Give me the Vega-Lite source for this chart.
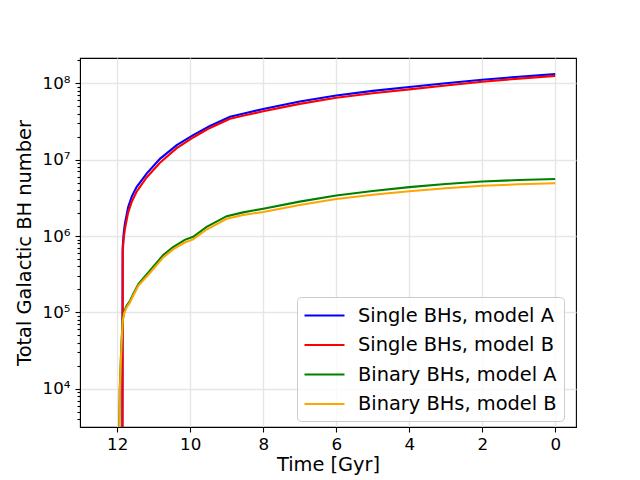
{
  "$schema": "https://vega.github.io/schema/vega-lite/v6.json",
  "width": 496,
  "height": 369,
  "autosize": {"type": "none"},
  "padding": {"left": 80, "top": 58, "right": 64, "bottom": 53},
  "background": "white",
  "config": {
    "font": "DejaVu Sans",
    "view": {"stroke": "black", "strokeWidth": 1.1},
    "axis": {
      "domainColor": "black",
      "tickColor": "black",
      "labelColor": "black",
      "titleColor": "black",
      "gridColor": "#e6e6e6",
      "gridWidth": 1.4,
      "labelFontSize": 16.7,
      "titleFontSize": 19.4,
      "titleFontWeight": "normal",
      "tickWidth": 1.1
    }
  },
  "data": {
    "values": [
      {"series": "Single BHs, model A", "t": 11.86, "n": 1000},
      {"series": "Single BHs, model A", "t": 11.85, "n": 716000},
      {"series": "Single BHs, model A", "t": 11.82, "n": 1122000},
      {"series": "Single BHs, model A", "t": 11.79, "n": 1445000},
      {"series": "Single BHs, model A", "t": 11.70, "n": 2399000},
      {"series": "Single BHs, model A", "t": 11.60, "n": 3311000},
      {"series": "Single BHs, model A", "t": 11.47, "n": 4365000},
      {"series": "Single BHs, model A", "t": 11.19, "n": 6607000},
      {"series": "Single BHs, model A", "t": 10.83, "n": 10230000},
      {"series": "Single BHs, model A", "t": 10.37, "n": 15490000},
      {"series": "Single BHs, model A", "t": 9.92, "n": 20890000},
      {"series": "Single BHs, model A", "t": 9.46, "n": 27540000},
      {"series": "Single BHs, model A", "t": 8.91, "n": 36310000},
      {"series": "Single BHs, model A", "t": 8.5, "n": 40500000},
      {"series": "Single BHs, model A", "t": 8.0, "n": 46030000},
      {"series": "Single BHs, model A", "t": 7.0, "n": 57540000},
      {"series": "Single BHs, model A", "t": 6.0, "n": 69180000},
      {"series": "Single BHs, model A", "t": 5.0, "n": 79430000},
      {"series": "Single BHs, model A", "t": 4.0, "n": 89130000},
      {"series": "Single BHs, model A", "t": 3.0, "n": 100000000},
      {"series": "Single BHs, model A", "t": 2.0, "n": 110900000},
      {"series": "Single BHs, model A", "t": 1.0, "n": 121600000},
      {"series": "Single BHs, model A", "t": 0.0, "n": 131800000},
      {"series": "Single BHs, model B", "t": 11.86, "n": 1000},
      {"series": "Single BHs, model B", "t": 11.85, "n": 631000},
      {"series": "Single BHs, model B", "t": 11.82, "n": 955000},
      {"series": "Single BHs, model B", "t": 11.79, "n": 1230000},
      {"series": "Single BHs, model B", "t": 11.70, "n": 2040000},
      {"series": "Single BHs, model B", "t": 11.60, "n": 2820000},
      {"series": "Single BHs, model B", "t": 11.47, "n": 3800000},
      {"series": "Single BHs, model B", "t": 11.19, "n": 5890000},
      {"series": "Single BHs, model B", "t": 10.83, "n": 9120000},
      {"series": "Single BHs, model B", "t": 10.37, "n": 14130000},
      {"series": "Single BHs, model B", "t": 9.92, "n": 19500000},
      {"series": "Single BHs, model B", "t": 9.46, "n": 26000000},
      {"series": "Single BHs, model B", "t": 8.91, "n": 34300000},
      {"series": "Single BHs, model B", "t": 8.5, "n": 38000000},
      {"series": "Single BHs, model B", "t": 8.0, "n": 43000000},
      {"series": "Single BHs, model B", "t": 7.0, "n": 53700000},
      {"series": "Single BHs, model B", "t": 6.0, "n": 64600000},
      {"series": "Single BHs, model B", "t": 5.0, "n": 74100000},
      {"series": "Single BHs, model B", "t": 4.0, "n": 83200000},
      {"series": "Single BHs, model B", "t": 3.0, "n": 93300000},
      {"series": "Single BHs, model B", "t": 2.0, "n": 104700000},
      {"series": "Single BHs, model B", "t": 1.0, "n": 114800000},
      {"series": "Single BHs, model B", "t": 0.0, "n": 124700000},
      {"series": "Binary BHs, model A", "t": 11.96, "n": 1000},
      {"series": "Binary BHs, model A", "t": 11.93, "n": 10000},
      {"series": "Binary BHs, model A", "t": 11.90, "n": 25100},
      {"series": "Binary BHs, model A", "t": 11.88, "n": 42700},
      {"series": "Binary BHs, model A", "t": 11.85, "n": 80000},
      {"series": "Binary BHs, model A", "t": 11.81, "n": 102000},
      {"series": "Binary BHs, model A", "t": 11.75, "n": 120000},
      {"series": "Binary BHs, model A", "t": 11.65, "n": 142000},
      {"series": "Binary BHs, model A", "t": 11.55, "n": 178000},
      {"series": "Binary BHs, model A", "t": 11.42, "n": 234000},
      {"series": "Binary BHs, model A", "t": 11.10, "n": 355000},
      {"series": "Binary BHs, model A", "t": 10.74, "n": 562000},
      {"series": "Binary BHs, model A", "t": 10.47, "n": 716000},
      {"series": "Binary BHs, model A", "t": 10.15, "n": 891000},
      {"series": "Binary BHs, model A", "t": 9.92, "n": 977000},
      {"series": "Binary BHs, model A", "t": 9.55, "n": 1318000},
      {"series": "Binary BHs, model A", "t": 9.00, "n": 1820000},
      {"series": "Binary BHs, model A", "t": 8.55, "n": 2040000},
      {"series": "Binary BHs, model A", "t": 8.0, "n": 2280000},
      {"series": "Binary BHs, model A", "t": 7.0, "n": 2820000},
      {"series": "Binary BHs, model A", "t": 6.0, "n": 3390000},
      {"series": "Binary BHs, model A", "t": 5.0, "n": 3890000},
      {"series": "Binary BHs, model A", "t": 4.0, "n": 4370000},
      {"series": "Binary BHs, model A", "t": 3.0, "n": 4790000},
      {"series": "Binary BHs, model A", "t": 2.0, "n": 5160000},
      {"series": "Binary BHs, model A", "t": 1.0, "n": 5400000},
      {"series": "Binary BHs, model A", "t": 0.0, "n": 5570000},
      {"series": "Binary BHs, model B", "t": 11.95, "n": 1000},
      {"series": "Binary BHs, model B", "t": 11.93, "n": 8900},
      {"series": "Binary BHs, model B", "t": 11.90, "n": 23400},
      {"series": "Binary BHs, model B", "t": 11.88, "n": 39800},
      {"series": "Binary BHs, model B", "t": 11.85, "n": 76000},
      {"series": "Binary BHs, model B", "t": 11.81, "n": 97000},
      {"series": "Binary BHs, model B", "t": 11.75, "n": 114000},
      {"series": "Binary BHs, model B", "t": 11.65, "n": 135000},
      {"series": "Binary BHs, model B", "t": 11.55, "n": 170000},
      {"series": "Binary BHs, model B", "t": 11.42, "n": 224000},
      {"series": "Binary BHs, model B", "t": 11.10, "n": 331000},
      {"series": "Binary BHs, model B", "t": 10.74, "n": 525000},
      {"series": "Binary BHs, model B", "t": 10.47, "n": 668000},
      {"series": "Binary BHs, model B", "t": 10.15, "n": 822000},
      {"series": "Binary BHs, model B", "t": 9.92, "n": 902000},
      {"series": "Binary BHs, model B", "t": 9.55, "n": 1216000},
      {"series": "Binary BHs, model B", "t": 9.00, "n": 1679000},
      {"series": "Binary BHs, model B", "t": 8.55, "n": 1884000},
      {"series": "Binary BHs, model B", "t": 8.0, "n": 2065000},
      {"series": "Binary BHs, model B", "t": 7.0, "n": 2540000},
      {"series": "Binary BHs, model B", "t": 6.0, "n": 3050000},
      {"series": "Binary BHs, model B", "t": 5.0, "n": 3470000},
      {"series": "Binary BHs, model B", "t": 4.0, "n": 3850000},
      {"series": "Binary BHs, model B", "t": 3.0, "n": 4220000},
      {"series": "Binary BHs, model B", "t": 2.0, "n": 4540000},
      {"series": "Binary BHs, model B", "t": 1.0, "n": 4750000},
      {"series": "Binary BHs, model B", "t": 0.0, "n": 4900000}
    ]
  },
  "mark": {"type": "line", "strokeWidth": 2.1, "clip": true},
  "encoding": {
    "x": {
      "field": "t",
      "type": "quantitative",
      "scale": {"domain": [13.02, -0.57], "nice": false, "zero": false},
      "axis": {
        "title": "Time [Gyr]",
        "values": [12, 10, 8, 6, 4, 2, 0],
        "tickSize": 5,
        "labelPadding": 4,
        "titlePadding": 3,
        "grid": true
      }
    },
    "y": {
      "field": "n",
      "type": "quantitative",
      "scale": {"type": "log", "domain": [3160, 214000000], "nice": false},
      "axis": {
        "title": "Total Galactic BH number",
        "values": [4000, 5000, 6000, 7000, 8000, 9000, 10000, 20000, 30000, 40000, 50000, 60000, 70000, 80000, 90000, 100000, 200000, 300000, 400000, 500000, 600000, 700000, 800000, 900000, 1000000, 2000000, 3000000, 4000000, 5000000, 6000000, 7000000, 8000000, 9000000, 10000000, 20000000, 30000000, 40000000, 50000000, 60000000, 70000000, 80000000, 90000000, 100000000, 200000000],
        "labelOverlap": false,
        "labelExpr": "abs(log(datum.value)/LN10 - round(log(datum.value)/LN10)) < 0.001 ? '10' + ['⁰','¹','²','³','⁴','⁵','⁶','⁷','⁸','⁹'][round(log(datum.value)/LN10)] : ''",
        "tickSize": {"condition": {"test": "abs(log(datum.value)/LN10 - round(log(datum.value)/LN10)) < 0.001", "value": 5}, "value": 3},
        "gridOpacity": {"condition": {"test": "abs(log(datum.value)/LN10 - round(log(datum.value)/LN10)) < 0.001", "value": 1}, "value": 0},
        "grid": true,
        "labelPadding": 5,
        "titlePadding": 8
      }
    },
    "color": {
      "field": "series",
      "type": "nominal",
      "sort": null,
      "scale": {
        "domain": ["Single BHs, model A", "Single BHs, model B", "Binary BHs, model A", "Binary BHs, model B"],
        "range": ["#0000ff", "#ff0000", "#008000", "#ffa500"]
      },
      "legend": {
        "title": null,
        "orient": "none",
        "legendX": 217,
        "legendY": 239,
        "symbolType": "M-2,0H2",
        "symbolSize": 400,
        "symbolOffset": 9,
        "symbolStrokeWidth": 2.1,
        "labelFontSize": 19.4,
        "labelColor": "black",
        "labelLimit": 400,
        "labelOffset": 22,
        "padding": 7,
        "rowPadding": 8.5,
        "strokeColor": "#cccccc",
        "fillColor": "rgba(255,255,255,0.8)",
        "cornerRadius": 4
      }
    }
  }
}
